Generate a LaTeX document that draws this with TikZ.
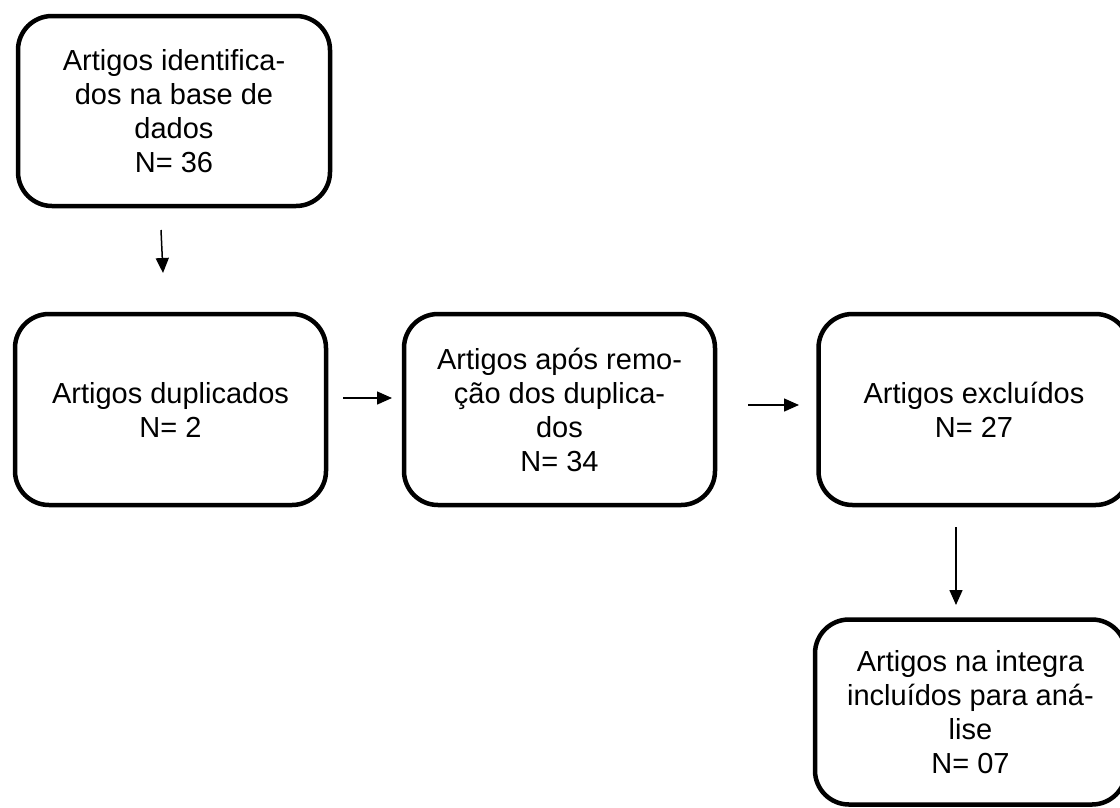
\documentclass[tikz,border=0pt]{standalone}
\usepackage{fontspec}
\setmainfont{Liberation Sans}
\usetikzlibrary{arrows.meta}
\tikzset{flowbox/.style={draw, line width=4.5pt, rounded corners=34pt,
    minimum width=311pt, minimum height=191pt, inner sep=0pt, align=center,
    font=\fontsize{29}{34}\selectfont},
  flowarrow/.style={line width=1.5pt, -{Triangle[length=15pt,width=13pt]}}
}

\begin{document}
\begin{tikzpicture}[x=1pt,y=-1pt]
      \path[use as bounding box, clip] (0,0) rectangle (1120,807);
      \node[flowbox, minimum width=312pt, minimum height=190pt] (identificados) at (174,111) {Artigos identifica-\\dos na base de\\dados\\N= 36};
      \node[flowbox] (duplicados) at (170.5,409.5) {Artigos duplicados\\N= 2};
      \node[flowbox] (removidos) at (559.5,409.5) {Artigos após remo-\\ção dos duplica-\\dos\\N= 34};
      \node[flowbox] (excluidos) at (974,409.5) {Artigos excluídos\\N= 27};
      \node[flowbox, minimum height=185pt] (incluidos) at (970.5,712) {Artigos na integra\\incluídos para aná-\\lise\\N= 07};
      \coordinate (a1) at (161,230); \coordinate (b1) at (163,273);
      \coordinate (a2) at (343,398); \coordinate (b2) at (392,398);
      \coordinate (a3) at (748,405); \coordinate (b3) at (799,405);
      \coordinate (a4) at (956,527); \coordinate (b4) at (956,605);
      \draw[flowarrow] (a1) -- (b1);
      \draw[flowarrow] (a2) -- (b2);
      \draw[flowarrow] (a3) -- (b3);
      \draw[flowarrow] (a4) -- (b4);
    \end{tikzpicture}
\end{document}
